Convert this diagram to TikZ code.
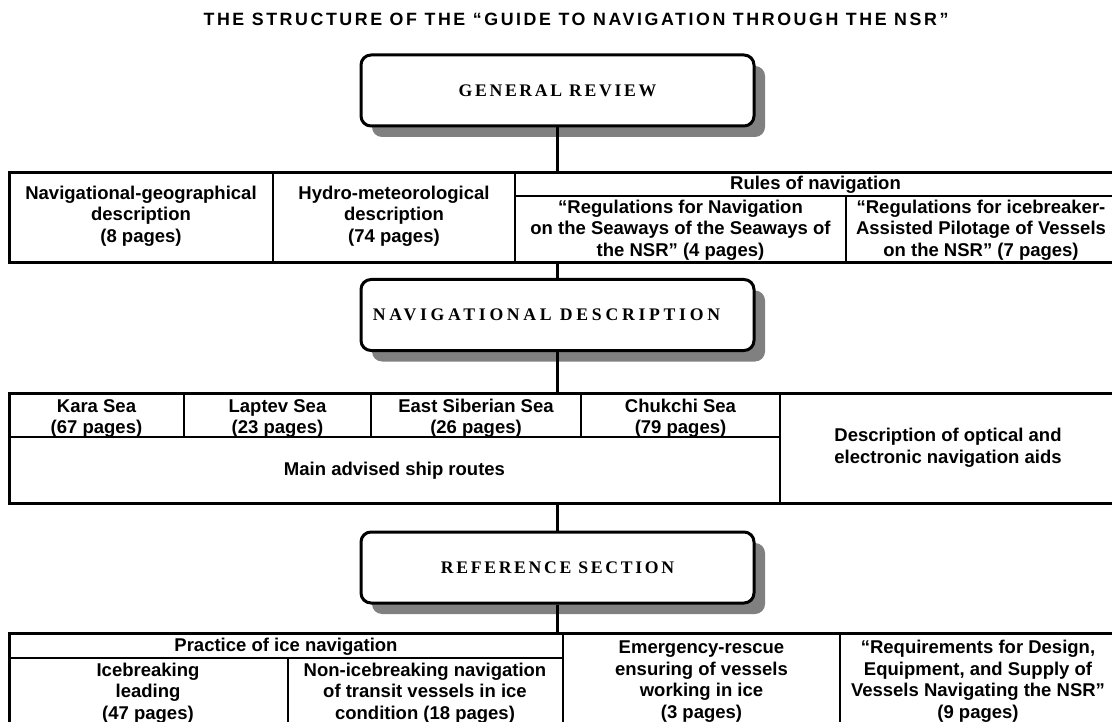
\documentclass[tikz,border=0pt]{standalone}
\usepackage{fontspec}
\setmainfont{Liberation Sans}
\newfontfamily\sectionfont[LetterSpace=15]{Liberation Serif}
\newfontfamily\titlefont[LetterSpace=14.5]{Liberation Sans}
\usepackage{tikz}
\usetikzlibrary{positioning,shadows}
\definecolor{shadowgray}{HTML}{808080}

\tikzset{
  section/.style={draw,line width=3pt,rounded corners=10pt,fill=white,minimum width=393pt,minimum height=71pt,
    font=\sectionfont\bfseries\fontsize{17.7}{20}\selectfont,
    drop shadow={shadow xshift=11pt,shadow yshift=-11pt,fill=shadowgray,opacity=1}},
  cell/.style={align=center,inner sep=0pt,font=\bfseries\fontsize{18.5}{21.5}\selectfont},
  frame/.style={draw,line width=3pt,anchor=north west,inner sep=0pt,outer sep=0pt},
  grid/.style={line width=2pt},
  subgrid/.style={line width=1.5pt},
  link/.style={line width=2.5pt}
}

\begin{document}
\begin{tikzpicture}[x=1pt,y=-1pt]
  \useasboundingbox (0,0) rectangle (1112,722);
  \clip (0,0) rectangle (1112,722);
  \fill[white] (0,0) rectangle (1112,722);

  \node[font=\titlefont\bfseries\fontsize{17.8}{20}\selectfont] (title) at (576,19) {THE STRUCTURE OF THE “GUIDE TO NAVIGATION THROUGH THE NSR”};

  \node[section] (general) at (557.5,90.5) {GENERAL REVIEW};
  \node[section] (navdesc) at (557.5,315) {\addfontfeature{LetterSpace=21}NAVIGATIONAL DESCRIPTION\hspace*{22pt}};
  \node[section] (refsec) at (557.5,567.5) {REFERENCE SECTION};

  \node[frame,minimum width=1110pt,minimum height=90pt] (t1) at (9,173) {};
  \draw[grid] (273,173) -- (273,263);
  \draw[grid] (515,173) -- (515,263);
  \draw[subgrid] (515,196) -- (1119,196);
  \draw[grid] (846,196) -- (846,263);
  \node[cell] (navgeo) at (141,216) {Navigational-geographical\\description\\(8 pages)};
  \node[cell] (hydro) at (394,216) {Hydro-meteorological\\description\\(74 pages)};
  \node[cell] (rules) at (815.5,185) {Rules of navigation};
  \node[cell] (regnsr) at (680.5,230) {“Regulations for Navigation\\on the Seaways of the Seaways of\\the NSR” (4 pages)};
  \node[cell] (regice) at (981,230) {“Regulations for icebreaker-\\Assisted Pilotage of Vessels\\on the NSR” (7 pages)};

  \node[frame,minimum width=1110pt,minimum height=110pt] (t2) at (9,393) {};
  \draw[grid] (184,393) -- (184,437);
  \draw[grid] (371,393) -- (371,437);
  \draw[grid] (581,393) -- (581,437);
  \draw[grid] (9,437) -- (780,437);
  \draw[grid] (780,393) -- (780,503);
  \node[cell] (kara) at (96.5,418.5) {Kara Sea\\(67 pages)};
  \node[cell] (laptev) at (277.5,418.5) {Laptev Sea\\(23 pages)};
  \node[cell] (esib) at (476,418.5) {East Siberian Sea\\(26 pages)};
  \node[cell] (chukchi) at (680.5,418.5) {Chukchi Sea\\(79 pages)};
  \node[cell] (routes) at (394.5,471) {Main advised ship routes};
  \node[cell] (aids) at (948,448) {Description of optical and\\electronic navigation aids};

  \node[frame,minimum width=1110pt,minimum height=100pt] (t3) at (9,633) {};
  \draw[subgrid] (9,658) -- (563,658);
  \draw[grid] (287.5,658) -- (287.5,733);
  \draw[grid] (563,633) -- (563,733);
  \draw[grid] (840,633) -- (840,733);
  \node[cell] (practice) at (286,647) {Practice of ice navigation};
  \node[cell] (icebreak) at (148,693) {Icebreaking\\leading\\(47 pages)};
  \node[cell] (nonice) at (425,693) {Non-icebreaking navigation\\of transit vessels in ice\\condition (18 pages)};
  \node[cell] (rescue) at (701.5,681.5) {Emergency-rescue\\ensuring of vessels\\working in ice\\(3 pages)};
  \node[cell] (require) at (978,681.5) {“Requirements for Design,\\Equipment, and Supply of\\Vessels Navigating the NSR”\\(9 pages)};

  \draw[link] (general.south) -- (general.south |- t1.north);
  \draw[link] (general.south |- t1.south) -- (navdesc.north);
  \draw[link] (navdesc.south) -- (navdesc.south |- t2.north);
  \draw[link] (refsec.north |- t2.south) -- (refsec.north);
  \draw[link] (refsec.south) -- (refsec.south |- t3.north);
\end{tikzpicture}
\end{document}
